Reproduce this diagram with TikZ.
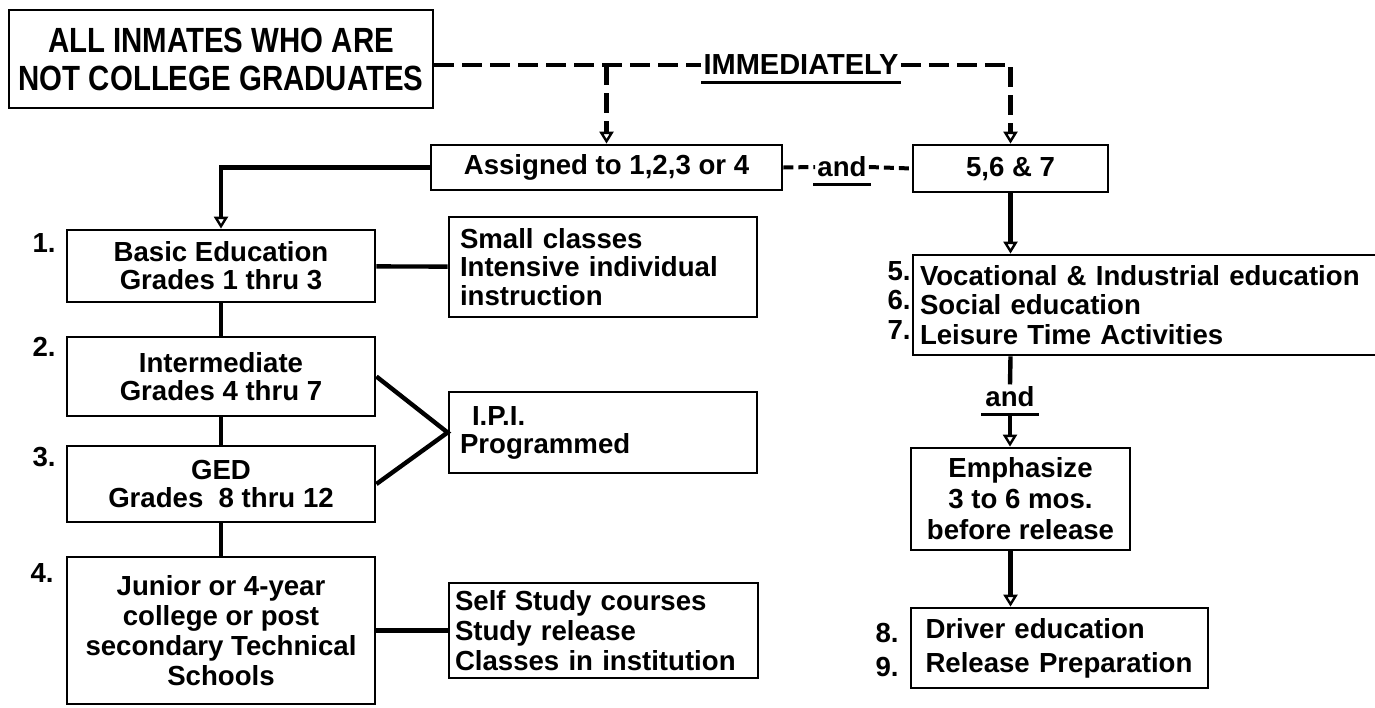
\documentclass[tikz,border=0pt]{standalone}
\usepackage{fontspec}
\setmainfont{Liberation Sans}
\newfontfamily\narrowfont[FakeStretch=0.84]{Liberation Sans}
\usetikzlibrary{arrows.meta,positioning,calc}

\begin{document}
\begin{tikzpicture}[x=0.5pt, y=-0.5pt,
        box/.style={draw, line width=1.4pt, inner sep=0pt, align=center,
            font=\bfseries\fontsize{13.8}{14}\selectfont}, % every framed block
        list/.style={box, align=left},
        num/.style={inner sep=0pt, anchor=east, font=\bfseries\fontsize{13.8}{14}\selectfont},
        word/.style={inner sep=1pt, font=\bfseries\fontsize{13.8}{14}\selectfont},
        conn/.style={line width=2.2pt},
        dashconn/.style={line width=2.2pt, dash pattern=on 10pt off 4pt},
        shortdash/.style={line width=2pt, dash pattern=on 5pt off 2.5pt},
        arrowhead/.style={-{Triangle[open, width=7pt, length=6pt, line width=1.2pt]}},
    ]
    \useasboundingbox (0,0) rectangle (1375,707);

    % entry and the two assignments
    \node (all) [box, minimum width=212pt, minimum height=49pt,
        font=\narrowfont\bfseries\fontsize{17.5}{19}\selectfont] at (221,59)
        {ALL INMATES WHO ARE\\NOT COLLEGE GRADUATES};
    \node (imm) [word, font=\bfseries\fontsize{14.5}{15}\selectfont] at (801,65) {IMMEDIATELY};
    \node (assigned) [box, minimum width=175.5pt, minimum height=22.5pt] at (606.5,167.5) {Assigned to 1,2,3 or 4};
    \node (and1) [word] at (842,167) {and};
    \node (s567) [box, minimum width=97.5pt, minimum height=23.5pt] at (1010.5,168.5) {5,6 \& 7};

    % left column: programs 1 to 4
    \node (basic) [box, minimum width=154pt, minimum height=36pt] at (221,266) {Basic Education\\Grades 1 thru 3};
    \node (inter) [box, minimum width=154pt, minimum height=39.5pt] at (221,376.5) {Intermediate\\Grades 4 thru 7};
    \node (ged) [box, minimum width=154pt, minimum height=38pt] at (221,484) {GED\\Grades\ \ 8 thru 12};
    \node (junior) [box, minimum width=154pt, minimum height=73.5pt,
        font=\bfseries\fontsize{13.8}{15}\selectfont] at (221,630.5)
        {Junior or 4-year\\college or post\\secondary Technical\\Schools};

    \node (n1) [num] at (56,243) {1.};
    \node (n2) [num] at (56,347) {2.};
    \node (n3) [num] at (56,457) {3.};
    \node (n4) [num] at (54,573) {4.};

    % methods
    \node (small) [list, text width=143pt, inner xsep=5.5pt, minimum height=50pt,
        font=\bfseries\fontsize{13.8}{14.25}\selectfont] at (603,267)
        {Small classes\\Intensive individual\\instruction};
    \node (ipi) [list, text width=143pt, inner xsep=5.5pt, minimum height=40.5pt] at (603,432.5)
        {\hspace*{6pt}I.P.I.\\Programmed};
    \node (self) [list, text width=148.5pt, inner xsep=3pt, minimum height=47.5pt,
        font=\bfseries\fontsize{13.8}{15}\selectfont] at (603.5,630.5)
        {Self Study courses\\Study release\\Classes in institution};

    % right column: programs 5 to 9
    \node (voc) [list, text width=236.5pt, inner xsep=3.5pt, minimum height=50pt,
        font=\bfseries\fontsize{13.8}{14.75}\selectfont] at (1156.5,305)
        {Vocational \& Industrial education\\Social education\\Leisure Time Activities};
    \node (n5) [num] at (911,271) {5.};
    \node (n6) [num] at (911,300) {6.};
    \node (n7) [num] at (911,330) {7.};
    \node (and2) [word] at (1010,397) {and};
    \node (emph) [box, minimum width=109.5pt, minimum height=51pt,
        font=\bfseries\fontsize{13.8}{15.5}\selectfont] at (1020.5,499)
        {Emphasize\\3 to 6 mos.\\before release};
    \node (driver) [list, text width=134pt, inner xsep=7.25pt, minimum height=40pt,
        font=\bfseries\fontsize{13.8}{17}\selectfont] at (1059.5,648)
        {Driver education\\Release Preparation};
    \node (n8) [num] at (899,633) {8.};
    \node (n9) [num] at (899,667) {9.};

    % underlines
    \draw[line width=1.3pt] ([yshift=-2.5pt]imm.south west) -- ([yshift=-2.5pt]imm.south east);
    \draw[line width=1.3pt] ([xshift=-1pt,yshift=-2.5pt]and1.south west) -- ([xshift=1pt,yshift=-2.5pt]and1.south east);
    \draw[line width=1.3pt] ([xshift=-1pt,yshift=-2.5pt]and2.south west) -- ([xshift=1pt,yshift=-2.5pt]and2.south east);

    % dashed connectors
    \draw[dashconn] (all.east |- imm) -- (imm.west);
    \draw[dashconn, arrowhead] (imm.east) -| (s567.north);
    \draw[dashconn, arrowhead] (assigned.north |- imm) -- (assigned.north);
    \draw[shortdash]
        (assigned.east) edge (and1.west)
        (and1.east) edge (s567.west);

    % solid connectors
    \draw[conn, arrowhead] (assigned.west) -| (basic.north);
    \draw[conn]
        (basic) edge (inter)
        (inter) edge (ged)
        (ged) edge (junior)
        (basic) edge (small)
        (junior) edge (self);
    \draw[conn] (inter.east) -- (ipi.west) -- (ged.east);
    \draw[conn, arrowhead] (s567) -- (s567 |- voc.north);
    \draw[conn] (s567 |- voc.south) -- (and2.north);
    \draw[conn, arrowhead] ([yshift=-2.5pt]and2.south) -- (and2.south |- emph.north);
    \draw[conn, arrowhead] (s567 |- emph.south) -- (s567 |- driver.north);
\end{tikzpicture}
\end{document}
